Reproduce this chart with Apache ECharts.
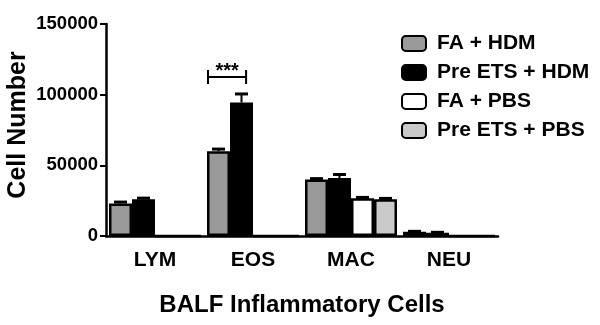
<!DOCTYPE html>
<html>
<head>
<meta charset="utf-8">
<script src="https://cdn.jsdelivr.net/npm/echarts@6/dist/echarts.min.js"></script>
<style>
  html, body { margin: 0; padding: 0; background: #fff; }
  #container_1 { width: 600px; height: 325px; }
</style>
</head>
<body>
<div id="container_1"></div>
<script>
// categories and values
var cells = ["LYM", "EOS", "MAC", "NEU"];
var seriesNames = ["FA + HDM", "Pre ETS + HDM", "FA + PBS", "Pre ETS + PBS"];
var faHdm = [23000, 60000, 40000, 3000];
var preEtsHdm = [26000, 94500, 41000, 2300];
var faPbs = [0, 0, 26700, 0];
var preEtsPbs = [0, 0, 26000, 0];
// upper error (SEM)
var errFaHdm = [1000, 1500, 600, 300];
var errPreEtsHdm = [800, 6000, 2500, 300];
var errFaPbs = [0, 0, 600, 0];
var errPreEtsPbs = [0, 0, 600, 0];
var yTicks = [0, 50000, 100000, 150000];

var values = [faHdm, preEtsHdm, faPbs, preEtsPbs];
var errors = [errFaHdm, errPreEtsHdm, errFaPbs, errPreEtsPbs];
var colors = ["#9a9a9a", "#000000", "#ffffff", "#cacaca"];
var BAR_W = 23;
var FONT = "Liberation Sans, Arial, Helvetica, sans-serif";

// error bar points: [category index, value, err, series index]
var errData = [];
values.forEach(function (arr, s) {
  arr.forEach(function (v, i) {
    if (v > 0) errData.push([i, v, errors[s][i], s]);
  });
});

function renderErr(params, api) {
  var s = api.value(3);
  var base = api.coord([api.value(0), api.value(1)]);
  var top = api.coord([api.value(0), api.value(1) + api.value(2)]);
  var x = base[0] + (s - 1.5) * BAR_W;
  var half = 6.5;
  return {
    type: "group",
    children: [
      { type: "line", shape: { x1: x, y1: base[1], x2: x, y2: top[1] },
        style: { stroke: "#000", lineWidth: 2 } },
      { type: "line", shape: { x1: x - half, y1: top[1], x2: x + half, y2: top[1] },
        style: { stroke: "#000", lineWidth: 3 } }
    ]
  };
}

// significance bracket over EOS (FA+HDM vs Pre ETS+HDM)
var sigData = [[1, 112500, "***"]];
function renderSig(params, api) {
  var p = api.coord([api.value(0), api.value(1)]);
  var x1 = p[0] - 2 * BAR_W + 1;
  var x2 = p[0] - 0.3 * BAR_W;
  var y = p[1];
  return {
    type: "group",
    children: [
      { type: "line", shape: { x1: x1, y1: y, x2: x2, y2: y }, style: { stroke: "#000", lineWidth: 2 } },
      { type: "line", shape: { x1: x1, y1: y - 7, x2: x1, y2: y + 7 }, style: { stroke: "#000", lineWidth: 2 } },
      { type: "line", shape: { x1: x2, y1: y - 7, x2: x2, y2: y + 7 }, style: { stroke: "#000", lineWidth: 2 } },
      { type: "text", x: (x1 + x2) / 2, y: y - 6,
        style: { text: api.value(2), textAlign: "center", textVerticalAlign: "middle",
                 font: "bold 20px " + FONT, fill: "#000" } }
    ]
  };
}

var series = values.map(function (arr, s) {
  return {
    name: seriesNames[s],
    type: "bar",
    data: arr,
    barWidth: BAR_W,
    barGap: "0%",
    itemStyle: { color: colors[s], borderColor: "#000", borderWidth: 2.5 },
    z: 2
  };
});
series.push({
  type: "custom",
  renderItem: renderErr,
  data: errData,
  encode: { x: 0, y: 1 },
  z: 1,
  silent: true
});
series.push({
  type: "custom",
  renderItem: renderSig,
  data: sigData,
  encode: { x: 0, y: 1 },
  z: 3,
  silent: true
});

var myChart = echarts.init(document.getElementById("container_1"));
myChart.setOption({
  animation: false,
  backgroundColor: "#fff",
  grid: { left: 106, right: 102, top: 24, bottom: 89, containLabel: false, outerBoundsMode: "none" },
  legend: {
    orient: "vertical",
    left: 396,
    top: 28,
    itemWidth: 24,
    itemHeight: 15,
    itemGap: 8,
    icon: "roundRect",
    data: seriesNames,
    textStyle: { fontFamily: FONT, fontWeight: "bold", fontSize: 21, color: "#000", padding: [0, 0, 0, 6] }
  },
  xAxis: {
    type: "category",
    data: cells,
    name: "BALF Inflammatory Cells",
    nameLocation: "middle",
    nameGap: 57,
    nameMoveOverlap: false,
    nameTextStyle: { fontFamily: FONT, fontWeight: "bold", fontSize: 24, color: "#000" },
    axisLine: { lineStyle: { color: "#000", width: 2.5 } },
    axisTick: { alignWithLabel: true, length: 7, lineStyle: { color: "#000", width: 2 } },
    axisLabel: { margin: 14, fontFamily: FONT, fontWeight: "bold", fontSize: 21, color: "#000" }
  },
  yAxis: {
    type: "value",
    min: yTicks[0],
    max: yTicks[yTicks.length - 1],
    interval: yTicks[1] - yTicks[0],
    name: "Cell Number",
    nameLocation: "middle",
    nameGap: 75,
    nameMoveOverlap: false,
    nameTextStyle: { fontFamily: FONT, fontWeight: "bold", fontSize: 25, color: "#000", padding: [0, 0, 0, 10] },
    axisLine: { show: true, lineStyle: { color: "#000", width: 2.5 } },
    axisTick: { show: true, length: 6, lineStyle: { color: "#000", width: 2 } },
    splitLine: { show: false },
    axisLabel: {
      margin: 8, fontFamily: FONT, fontWeight: "bold", fontSize: 18.5, color: "#000",
      formatter: function (v) { return String(v); }
    }
  },
  series: series
});
</script>
</body>
</html>
